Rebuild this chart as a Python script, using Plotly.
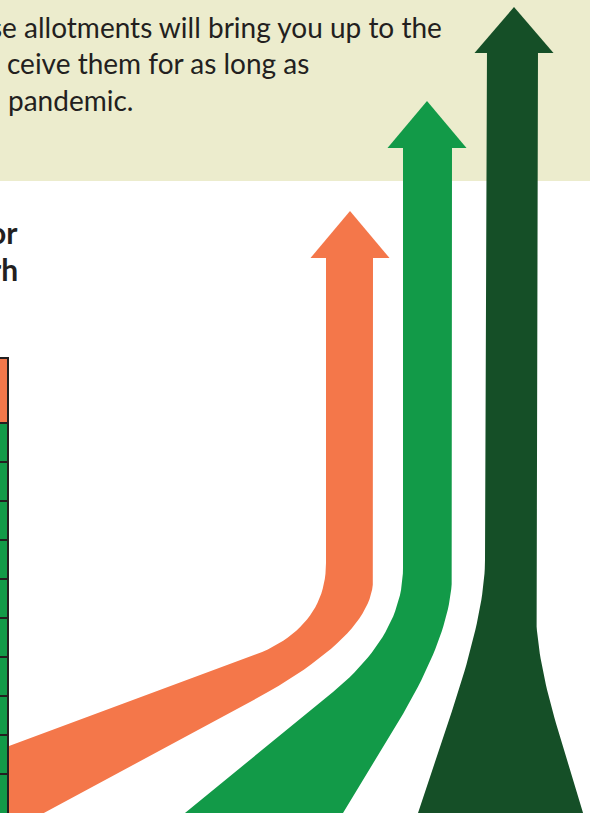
import plotly.graph_objects as go

W, H = 590, 813

# ---- colours ----
BEIGE = "#ECECCD"
ORANGE = "#F4774A"
GREEN = "#129A48"
DARK = "#154F27"
INK = "#231F20"

# ---- arrow geometry (page pixels, y grows downward) ----
# head: tip (x, y), base y, base half-width
arrow_tip_x = [350, 427, 514]
arrow_tip_y = [211, 101, 7]
arrow_head_base_y = [258, 148, 53]
arrow_head_half = [39.5, 39.5, 39.5]
arrow_colors = [ORANGE, GREEN, DARK]

# body outlines: list of segments; ("L", x, y) straight, ("Q", cx, cy, x, y) quadratic curve
orange_body = [("M", 373, 250), ("L", 373, 580), ("Q", 373, 636, 250, 702), ("L", -10, 842),
               ("L", 9, 842), ("L", 9, 746), ("L", 250, 657), ("Q", 326, 629, 326, 563), ("L", 326, 250)]
green_body = [("M", 452, 140), ("L", 452, 575), ("Q", 452, 630, 403, 714), ("L", 343, 813),
              ("L", 330, 835), ("L", 160, 835), ("L", 185, 813), ("L", 333, 692),
              ("Q", 403, 634, 403, 568), ("L", 403, 140)]
dark_body = [("M", 538, 45), ("L", 536, 610), ("Q", 536, 657, 558, 730), ("L", 583, 813),
             ("L", 590, 836), ("L", 410, 836), ("L", 418, 813), ("L", 452, 711),
             ("Q", 485, 612, 485, 560), ("L", 487, 45)]
bodies = [orange_body, green_body, dark_body]

# ---- table rows (cut off at the left edge) ----
row_edges = [358, 423, 462, 501, 540, 579, 618, 657, 696, 735, 774, 852]
row_colors = [ORANGE] + [GREEN] * 10
table_right = 8

# ---- text ----
body_lines = ["se allotments will bring you up to the",
              "ceive them for as long as",
              "pandemic."]
body_x = [444, 5, 6]
body_anchor = ["right", "left", "left"]
body_y = [27, 63, 100]
head_lines = ["or", "rh"]
head_y = [232, 269]
panel_bottom = 181


def sample_path(segs, n=24):
    xs, ys = [], []
    cx, cy = None, None
    for s in segs:
        if s[0] in ("M", "L"):
            cx, cy = s[1], s[2]
            xs.append(cx); ys.append(cy)
        else:
            _, qx, qy, ex, ey = s
            for i in range(1, n + 1):
                t = i / n
                xs.append((1 - t) ** 2 * cx + 2 * (1 - t) * t * qx + t * t * ex)
                ys.append((1 - t) ** 2 * cy + 2 * (1 - t) * t * qy + t * t * ey)
            cx, cy = ex, ey
    return xs, ys


fig = go.Figure()

for body, tx, ty, by, hh, col in zip(bodies, arrow_tip_x, arrow_tip_y, arrow_head_base_y,
                                     arrow_head_half, arrow_colors):
    xs, ys = sample_path(body)
    fig.add_trace(go.Scatter(x=xs, y=ys, mode="lines", fill="toself", fillcolor=col,
                             line=dict(width=0, color=col), hoverinfo="skip", showlegend=False))
    fig.add_trace(go.Scatter(x=[tx, tx + hh, tx - hh], y=[ty, by, by], mode="lines",
                             fill="toself", fillcolor=col, line=dict(width=0, color=col),
                             hoverinfo="skip", showlegend=False))

# table as horizontal bars
centers = [(a + b) / 2 for a, b in zip(row_edges[:-1], row_edges[1:])]
heights = [b - a for a, b in zip(row_edges[:-1], row_edges[1:])]
fig.add_trace(go.Bar(
    orientation="h", y=centers, width=heights,
    x=[table_right + 60] * len(centers), base=-60,
    marker=dict(color=row_colors, line=dict(color=INK, width=2)),
    hoverinfo="skip", showlegend=False,
))

# beige panel
fig.add_shape(type="rect", x0=-5, x1=W + 5, y0=-5, y1=panel_bottom, xref="x", yref="y",
              fillcolor=BEIGE, line=dict(width=0), layer="below")

for t, x, a, y in zip(body_lines, body_x, body_anchor, body_y):
    fig.add_annotation(x=x, y=y, xref="x", yref="y", text=t, showarrow=False,
                       xanchor=a, yanchor="middle",
                       font=dict(family="Lato", size=28, color=INK))

for t, y in zip(head_lines, head_y):
    fig.add_annotation(x=20, y=y, xref="x", yref="y", text="<b>" + t + "</b>", showarrow=False,
                       xanchor="right", yanchor="middle",
                       font=dict(family="Lato", size=30, color=INK))

fig.update_layout(
    width=W, height=H, margin=dict(l=0, r=0, t=0, b=0),
    paper_bgcolor="white", plot_bgcolor="white",
    xaxis=dict(range=[0, W], visible=False, fixedrange=True),
    yaxis=dict(range=[H, 0], visible=False, fixedrange=True),
    bargap=0,
)

fig.write_html("out.html", config={"displayModeBar": False},
               post_script="document.body.style.margin='0';document.body.style.overflow='hidden';")
